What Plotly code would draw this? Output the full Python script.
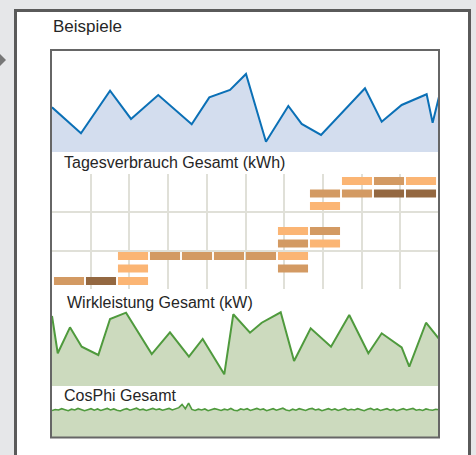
import numpy as np
import plotly.graph_objects as go

W, H = 476, 455

# ---------------- data ----------------
# Tagesverbrauch Gesamt (kWh)
tv_day = [0.0, 2.32, 4.65, 6.33, 8.51, 11.19, 12.60, 14.26, 15.54, 17.14, 18.93,
          20.00, 21.55, 25.07, 26.41, 28.01, 30.01, 30.49, 31.0]
tv_kwh = [43.8, 18.3, 60.1, 32.4, 55.9, 27.2, 53.6, 60.8, 76.5, 10.1, 45.1,
          27.5, 16.7, 62.5, 29.7, 46.1, 56.6, 28.7, 54.2]

# block chart (slot index, level) per colour
light_slot = [2, 2, 2, 7, 7, 8, 8, 9, 11]
light_lvl = [0, 1, 2, 2, 4, 3, 6, 8, 8]
mid_slot = [0, 3, 4, 5, 6, 7, 7, 8, 8, 9, 10]
mid_lvl = [0, 2, 2, 2, 2, 1, 3, 4, 7, 7, 8]
dark_slot = [1, 10, 11]
dark_lvl = [0, 7, 7]

# Wirkleistung Gesamt (kW)
wl_day = [0.0, 0.46, 1.44, 2.38, 3.71, 4.65, 5.93, 7.99, 9.45, 10.97, 12.07, 13.80,
          14.52, 15.86, 16.80, 18.32, 19.39, 20.72, 22.35, 23.81, 25.34, 26.41,
          28.01, 28.62, 29.96, 31.0]
wl_kw = [72.9, 34.1, 61.1, 40.9, 32.3, 69.8, 76.4, 33.3, 55.9, 30.5, 49.0, 12.2,
         74.7, 55.5, 65.9, 76.8, 26.0, 60.1, 40.9, 74.0, 34.1, 54.9, 40.3, 20.1,
         65.9, 49.0]

# CosPhi Gesamt
cos_phi = [0.904, 0.908, 0.906, 0.911, 0.907, 0.903, 0.909, 0.906, 0.912, 0.908,
           0.903, 0.907, 0.911, 0.905, 0.910, 0.904, 0.908, 0.912, 0.906, 0.910,
           0.905, 0.902, 0.908, 0.911, 0.905, 0.909, 0.913, 0.906, 0.909, 0.904,
           0.909, 0.912, 0.907, 0.910, 0.905, 0.908, 0.912, 0.906, 0.910, 0.915,
           0.928, 0.911, 0.933, 0.908, 0.904, 0.909, 0.906, 0.910, 0.903, 0.907,
           0.911, 0.908, 0.904, 0.909, 0.906, 0.912, 0.905, 0.903, 0.910, 0.907,
           0.911, 0.904, 0.908, 0.912, 0.907, 0.910, 0.903, 0.908, 0.911, 0.905,
           0.909, 0.913, 0.906, 0.903, 0.909, 0.905, 0.911, 0.908, 0.904, 0.910,
           0.912, 0.906, 0.909, 0.903, 0.908, 0.911, 0.906, 0.910, 0.904, 0.908,
           0.912, 0.905, 0.909, 0.906, 0.911, 0.907, 0.903, 0.909, 0.912, 0.906,
           0.910, 0.904, 0.908, 0.911, 0.905, 0.909, 0.903, 0.907, 0.911, 0.906,
           0.909, 0.912, 0.905, 0.908, 0.904, 0.910, 0.907, 0.905, 0.909, 0.907]
cos_day = list(np.linspace(0, 31, len(cos_phi)))

titles = ["Beispiele", "Tagesverbrauch Gesamt (kWh)", "Wirkleistung Gesamt (kW)", "CosPhi Gesamt"]

# ---------------- helpers ----------------
def fx(px):
    return px / W


def fy(py):
    return 1 - py / H


FONT = "Liberation Sans, Arial, sans-serif"
BLUE = "#0b70b6"
BLUE_FILL = "#d3ddee"
GREEN = "#4f9a3d"
GREEN_FILL = "#ccdabe"
C_LIGHT = "#fbb574"
C_MID = "#d39a63"
C_DARK = "#946841"
GRID = "#e0e0d8"

fig = go.Figure()

# panel 1
fig.add_trace(go.Scatter(x=tv_day, y=tv_kwh, mode="lines", fill="tozeroy",
                         fillcolor=BLUE_FILL, line=dict(color=BLUE, width=2),
                         xaxis="x", yaxis="y", hoverinfo="skip"))

# panel 2 bars
BH = 0.64
for slots, lvls, col in [(light_slot, light_lvl, C_LIGHT), (mid_slot, mid_lvl, C_MID),
                         (dark_slot, dark_lvl, C_DARK)]:
    fig.add_trace(go.Bar(x=slots, y=[BH] * len(lvls), base=[l - BH / 2 for l in lvls],
                         width=0.94, marker=dict(color=col, line=dict(width=0)),
                         xaxis="x2", yaxis="y2", hoverinfo="skip"))

# panel 3
fig.add_trace(go.Scatter(x=wl_day, y=wl_kw, mode="lines", fill="tozeroy",
                         fillcolor=GREEN_FILL, line=dict(color=GREEN, width=2),
                         xaxis="x3", yaxis="y3", hoverinfo="skip"))

# panel 4
fig.add_trace(go.Scatter(x=cos_day, y=cos_phi, mode="lines", fill="tozeroy",
                         fillcolor=GREEN_FILL, line=dict(color=GREEN, width=1.6),
                         xaxis="x4", yaxis="y4", hoverinfo="skip"))

hidden = dict(showgrid=False, zeroline=False, showline=False, showticklabels=False, ticks="")
xd = [fx(52), fx(439)]

x2r = [(52 - 69) / 32, (439 - 69) / 32]
y2r = [(281 - 289) / 12.5, (281 - 174) / 12.5]
ygrid = list(np.linspace(y2r[0], y2r[1], 4))
ygrid[0] += 0.03
ygrid[-1] -= 0.03

fig.update_layout(
    width=W, height=H, margin=dict(l=0, r=0, t=0, b=0),
    paper_bgcolor="#e6e7e9", plot_bgcolor="rgba(0,0,0,0)",
    showlegend=False, barmode="overlay",
    xaxis=dict(domain=xd, range=[0, 31], **hidden),
    yaxis=dict(domain=[fy(152), fy(50)], range=[0, 100], **hidden),
    xaxis2=dict(domain=xd, range=x2r, anchor="y2", zeroline=False, showline=False,
                showticklabels=False, ticks="", showgrid=True, gridcolor=GRID, gridwidth=2,
                tickmode="array", tickvals=list(np.linspace(x2r[0], x2r[1], 11))[1:-1]),
    yaxis2=dict(domain=[fy(289), fy(174)], range=y2r, anchor="x2", zeroline=False,
                showline=False, showticklabels=False, ticks="", showgrid=True,
                gridcolor=GRID, gridwidth=2, tickmode="array", tickvals=ygrid),
    xaxis3=dict(domain=xd, range=[0, 31], anchor="y3", **hidden),
    yaxis3=dict(domain=[fy(386), fy(290)], range=[0, 100], anchor="x3", **hidden),
    xaxis4=dict(domain=xd, range=[0, 31], anchor="y4", **hidden),
    yaxis4=dict(domain=[fy(437), fy(386)], range=[0.8, 1.0], anchor="x4", **hidden),
)

shapes = [
    # outer white box
    dict(type="rect", xref="paper", yref="paper", x0=fx(15.5), x1=fx(469.5),
         y0=fy(470), y1=fy(10.5), fillcolor="white", line=dict(color="#5a5a5a", width=3),
         layer="below"),
    # inner white panel
    dict(type="rect", xref="paper", yref="paper", x0=fx(51), x1=fx(439),
         y0=fy(437.5), y1=fy(50), fillcolor="white", line=dict(width=0), layer="below"),
    # inner border
    dict(type="rect", xref="paper", yref="paper", x0=fx(51), x1=fx(439),
         y0=fy(437.5), y1=fy(50), fillcolor="rgba(0,0,0,0)",
         line=dict(color="#666666", width=2), layer="above"),
    # arrow at left
    dict(type="path", xref="paper", yref="paper",
         path=f"M {fx(-2)},{fy(52)} L {fx(6)},{fy(60)} L {fx(-2)},{fy(68)} Z",
         fillcolor="#777777", line=dict(width=0), layer="below"),
]
fig.update_layout(shapes=shapes)

ann = [
    (titles[0], 50.5, 26.8, 17),
    (titles[1], 62, 162.7, 16),
    (titles[2], 65, 302.0, 16),
    (titles[3], 62, 395.5, 16),
]
fig.update_layout(annotations=[
    dict(text=t, x=fx(x), y=fy(y), xref="paper", yref="paper", xanchor="left",
         yanchor="middle", showarrow=False, font=dict(family=FONT, size=s, color="#262626"))
    for t, x, y, s in ann
])

fig.write_html("out.html", config={"displayModeBar": False},
               post_script="document.body.style.margin='0';document.body.style.overflow='hidden';")
